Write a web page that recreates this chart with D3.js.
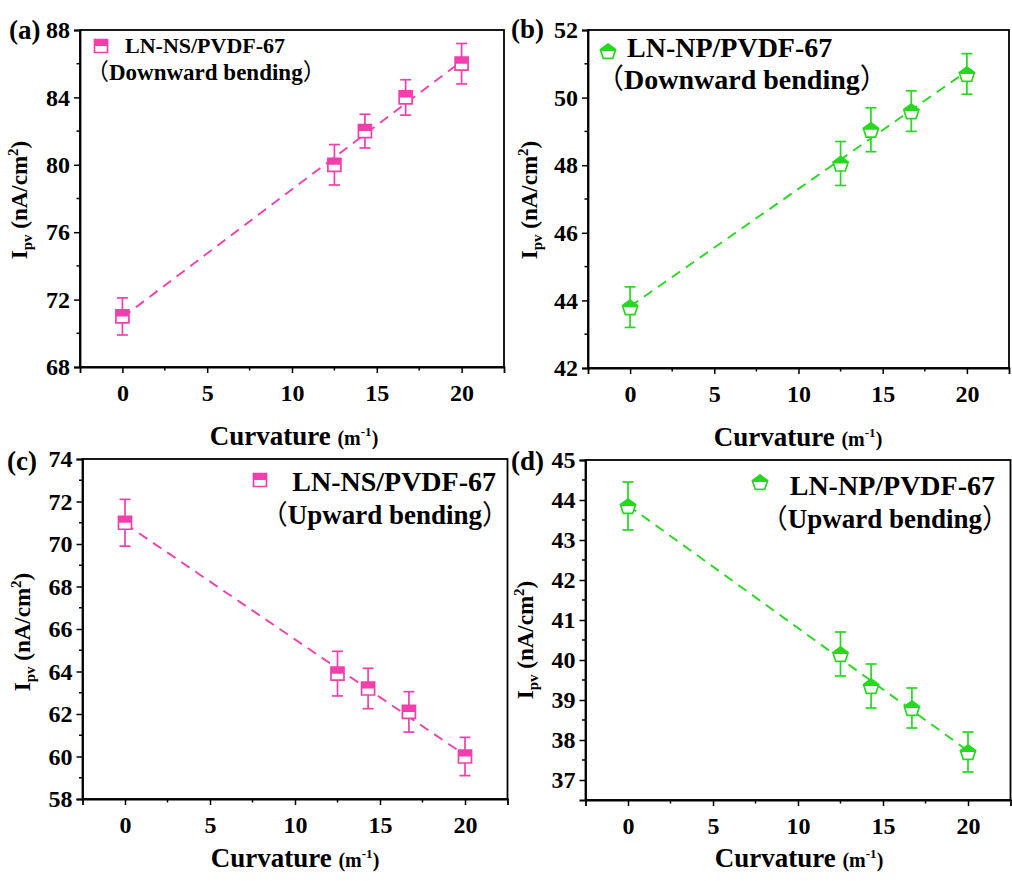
<!DOCTYPE html>
<html>
<head>
<meta charset="utf-8">
<script src="https://cdn.jsdelivr.net/npm/d3@7"></script>
<style>
  html, body { margin: 0; padding: 0; background: #fff; }
  svg { display: block; }
  text { font-family: "Liberation Serif", "Times New Roman", serif; font-weight: bold; fill: #000; }
  .cjk { font-family: "Noto Sans CJK SC", "Noto Sans CJK JP", sans-serif; font-weight: normal; }
</style>
</head>
<body>
<svg id="chart" width="1012" height="881"></svg>
<script>
// Curvature values (m^-1) shared by all four measurements
const curvature = [0, 12.5, 14.3, 16.7, 20];

// Photovoltaic current density (nA/cm^2) and error half-widths
const nsDown = [71.0, 80.0, 82.0, 84.0, 86.0];
const nsDownErr = [1.1, 1.2, 1.0, 1.05, 1.2];
const npDown = [43.8, 48.05, 49.05, 49.6, 50.7];
const npDownErr = [0.6, 0.65, 0.65, 0.6, 0.6];
const nsUp = [71.0, 63.9, 63.2, 62.1, 60.0];
const nsUpErr = [1.1, 1.05, 0.95, 0.95, 0.9];
const npUp = [43.85, 40.15, 39.35, 38.8, 37.7];
const npUpErr = [0.6, 0.55, 0.55, 0.5, 0.5];

// Axis tick values
const xTicks = [0, 5, 10, 15, 20];
const yTicksA = [68, 72, 76, 80, 84, 88];
const yTicksB = [42, 44, 46, 48, 50, 52];
const yTicksC = [58, 60, 62, 64, 66, 68, 70, 72, 74];
const yTicksD = [37, 38, 39, 40, 41, 42, 43, 44, 45];

// Series labels
const materials = ["LN-NS/PVDF-67", "LN-NP/PVDF-67"];
const bendings = ["Downward bending", "Upward bending"];

const PINK = "#f23fae";
const GREEN = "#26d820";

const panels = [
  { tag: "(a)", tagPos: [9, 39], values: nsDown, errs: nsDownErr, color: PINK, shape: "square",
    xDom: [-2.5, 22.5], xRange: [80, 504], yDom: [68, 88], yRange: [367, 30], yTicks: yTicksA, yMinor: 2,
    label: materials[0], bend: bendings[0], anchor: "start",
    legMarker: [101, 46], legText: [125, 53], bendPos: [86, 80], legSize: 22, bendSize: 23,
    xTitle: [294, 445], yTitle: [27, 200] },
  { tag: "(b)", tagPos: [511, 38], values: npDown, errs: npDownErr, color: GREEN, shape: "pentagon",
    xDom: [-2.5, 22.5], xRange: [588, 1009], yDom: [42, 52], yRange: [368, 30], yTicks: yTicksB, yMinor: 1,
    label: materials[1], bend: bendings[0], anchor: "start",
    legMarker: [608, 51], legText: [627, 57], bendPos: [596, 89], legSize: 28, bendSize: 28,
    xTitle: [798, 446], yTitle: [537, 200] },
  { tag: "(c)", tagPos: [7, 470], values: nsUp, errs: nsUpErr, color: PINK, shape: "square",
    xDom: [-2.5, 22.5], xRange: [82.5, 507.5], yDom: [58, 74], yRange: [799, 459], yTicks: yTicksC, yMinor: 1,
    label: materials[0], bend: bendings[1], anchor: "end",
    legMarker: [260, 480], legText: [496, 491], bendPos: [509, 524], legSize: 28, bendSize: 27,
    xTitle: [295, 867], yTitle: [30, 632] },
  { tag: "(d)", tagPos: [511, 470], values: npUp, errs: npUpErr, color: GREEN, shape: "pentagon",
    xDom: [-2.5, 22.5], xRange: [585.5, 1010.5], yDom: [36.5, 45], yRange: [800, 460], yTicks: yTicksD, yMinor: 0.5,
    label: materials[1], bend: bendings[1], anchor: "end",
    legMarker: [760, 482], legText: [995, 495], bendPos: [1009, 528], legSize: 28, bendSize: 27,
    xTitle: [799, 867], yTitle: [533, 640] }
];

const svg = d3.select("#chart");
let clipCount = 0;

// Marker with the upper half filled and the lower half hollow
function drawMarker(g, cx, cy, shape, color) {
  const m = g.append("g").attr("transform", `translate(${cx},${cy})`);
  const clipId = "half" + (clipCount++);
  let outline;
  if (shape === "square") {
    const s = 6.5;
    outline = `M${-s},${-s}H${s}V${s}H${-s}Z`;
  } else {
    const r = 8;
    const pts = d3.range(5).map(i => {
      const a = -Math.PI / 2 + i * 2 * Math.PI / 5;
      return [r * Math.cos(a), r * Math.sin(a) + 1];
    });
    outline = "M" + pts.map(p => p.join(",")).join("L") + "Z";
  }
  m.append("clipPath").attr("id", clipId)
    .append("rect").attr("x", -10).attr("y", -10).attr("width", 20).attr("height", 10);
  m.append("path").attr("d", outline).attr("fill", "#fff");
  m.append("path").attr("d", outline).attr("fill", color).attr("clip-path", `url(#${clipId})`);
  m.append("path").attr("d", outline).attr("fill", "none").attr("stroke", color).attr("stroke-width", 1.7);
}

// Least-squares line through the measured points
function linearFit(xs, ys) {
  const mx = d3.mean(xs), my = d3.mean(ys);
  const sxy = d3.sum(xs, (x, i) => (x - mx) * (ys[i] - my));
  const sxx = d3.sum(xs, x => (x - mx) * (x - mx));
  const k = sxy / sxx;
  return { k, b: my - k * mx };
}

panels.forEach(p => {
  const x = d3.scaleLinear().domain(p.xDom).range(p.xRange);
  const y = d3.scaleLinear().domain(p.yDom).range(p.yRange);
  const g = svg.append("g");
  const [x0, x1] = p.xRange, [y0, y1] = [p.yRange[1], p.yRange[0]];

  // frame
  g.append("rect").attr("x", x0).attr("y", y0).attr("width", x1 - x0).attr("height", y1 - y0)
    .attr("fill", "none").attr("stroke", "#000").attr("stroke-width", 1.8);

  // bottom axis
  const xAxis = d3.axisBottom(x).tickValues(xTicks).tickSize(6).tickPadding(11).tickFormat(d3.format("d"));
  const gx = g.append("g").attr("transform", `translate(0,${y1})`).call(xAxis);
  const xMinor = d3.range(p.xDom[0] + 5, p.xDom[1], 5);
  gx.selectAll(".minor").data(xMinor).enter().append("line").attr("class", "minor")
    .attr("x1", d => x(d)).attr("x2", d => x(d)).attr("y1", 0).attr("y2", 3.5)
    .attr("stroke", "#000").attr("stroke-width", 1.5);

  // left axis
  const yAxis = d3.axisLeft(y).tickValues(p.yTicks).tickSize(6).tickPadding(4).tickFormat(d3.format("d"));
  const gy = g.append("g").attr("transform", `translate(${x0},0)`).call(yAxis);
  const step = p.yTicks[1] - p.yTicks[0];
  const yMinor = d3.range(p.yTicks[0] + p.yMinor, p.yTicks[p.yTicks.length - 1], step)
    .filter(v => !p.yTicks.includes(v));
  gy.selectAll(".minor").data(yMinor).enter().append("line").attr("class", "minor")
    .attr("x1", 0).attr("x2", -3.5).attr("y1", d => y(d)).attr("y2", d => y(d))
    .attr("stroke", "#000").attr("stroke-width", 1.5);

  [gx, gy].forEach(a => {
    a.select(".domain").attr("stroke-width", 1.8);
    a.selectAll(".tick line").attr("stroke-width", 1.5);
    a.selectAll(".tick text").style("font-size", "24px").style("font-family", "Liberation Serif").style("font-weight", "bold");
  });

  // linear fit, dashed
  const fit = linearFit(curvature, p.values);
  g.append("line")
    .attr("x1", x(0)).attr("y1", y(fit.b))
    .attr("x2", x(20)).attr("y2", y(fit.b + fit.k * 20))
    .attr("stroke", p.color).attr("stroke-width", 1.9).attr("stroke-dasharray", "10,7");

  // error bars
  curvature.forEach((c, i) => {
    const cx = x(c), lo = y(p.values[i] - p.errs[i]), hi = y(p.values[i] + p.errs[i]);
    const eb = g.append("g").attr("stroke", p.color).attr("stroke-width", 1.7);
    eb.append("line").attr("x1", cx).attr("x2", cx).attr("y1", lo).attr("y2", hi);
    eb.append("line").attr("x1", cx - 5.5).attr("x2", cx + 5.5).attr("y1", lo).attr("y2", lo);
    eb.append("line").attr("x1", cx - 5.5).attr("x2", cx + 5.5).attr("y1", hi).attr("y2", hi);
  });

  // markers
  curvature.forEach((c, i) => drawMarker(g, x(c), y(p.values[i]), p.shape, p.color));

  // legend
  drawMarker(g, p.legMarker[0], p.legMarker[1], p.shape, p.color);
  g.append("text").attr("x", p.legText[0]).attr("y", p.legText[1]).attr("text-anchor", p.anchor)
    .style("font-size", p.legSize + "px").text(p.label);
  const bt = g.append("text").attr("x", p.bendPos[0]).attr("y", p.bendPos[1]).attr("text-anchor", p.anchor)
    .style("font-size", p.bendSize + "px");
  bt.append("tspan").attr("class", "cjk").text("（");
  bt.append("tspan").text(p.bend);
  bt.append("tspan").attr("class", "cjk").text("）");

  // panel tag
  g.append("text").attr("x", p.tagPos[0]).attr("y", p.tagPos[1]).style("font-size", "27px").text(p.tag);

  // x title
  const xt = g.append("text").attr("x", p.xTitle[0]).attr("y", p.xTitle[1])
    .attr("text-anchor", "middle").style("font-size", "27px");
  xt.append("tspan").text("Curvature ");
  xt.append("tspan").style("font-size", "20px").text("(m");
  xt.append("tspan").style("font-size", "13px").attr("dy", -9).text("-1");
  xt.append("tspan").style("font-size", "20px").attr("dy", 9).text(")");

  // y title
  const yt = g.append("text").attr("transform", `translate(${p.yTitle[0]},${p.yTitle[1]}) rotate(-90)`)
    .attr("text-anchor", "middle").style("font-size", "23px");
  yt.append("tspan").text("I");
  yt.append("tspan").style("font-size", "15px").attr("dy", 5).text("pv");
  yt.append("tspan").attr("dy", -5).text(" (nA/cm");
  yt.append("tspan").style("font-size", "15px").attr("dy", -9).text("2");
  yt.append("tspan").attr("dy", 9).text(")");
});
</script>
</body>
</html>
